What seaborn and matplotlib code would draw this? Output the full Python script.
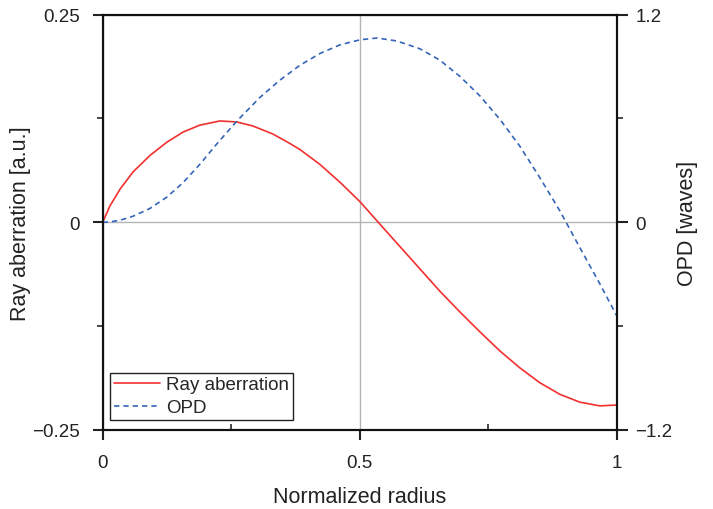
import matplotlib
matplotlib.use("Agg")
import matplotlib.pyplot as plt
import seaborn as sns
import pandas as pd
from matplotlib.ticker import MultipleLocator

# values
radius_ray = [0.0, 0.014, 0.034, 0.059, 0.092, 0.125, 0.156, 0.189, 0.228, 0.261,
              0.292, 0.331, 0.364, 0.384, 0.423, 0.462, 0.501, 0.539, 0.578, 0.617,
              0.656, 0.695, 0.734, 0.773, 0.811, 0.850, 0.889, 0.928, 0.967, 1.0]
ray_aberration = [0.0, 0.0196, 0.0401, 0.0606, 0.0805, 0.0965, 0.1085, 0.117, 0.122, 0.1208,
                  0.116, 0.1063, 0.0950, 0.0875, 0.0695, 0.048, 0.0245, -0.002, -0.029, -0.056,
                  -0.083, -0.108, -0.132, -0.155, -0.175, -0.193, -0.207, -0.2165, -0.221, -0.220]

radius_opd = [0.0, 0.014, 0.034, 0.059, 0.092, 0.125, 0.156, 0.189, 0.222, 0.261,
              0.306, 0.345, 0.384, 0.423, 0.462, 0.501, 0.534, 0.572, 0.617, 0.656,
              0.695, 0.734, 0.773, 0.811, 0.850, 0.889, 0.928, 0.967, 1.0]
opd = [0.0, 0.002, 0.012, 0.035, 0.080, 0.146, 0.228, 0.335, 0.453, 0.585,
       0.722, 0.822, 0.908, 0.976, 1.026, 1.055, 1.065, 1.048, 1.003, 0.937,
       0.843, 0.730, 0.594, 0.442, 0.260, 0.068, -0.145, -0.355, -0.540]

x_ticks = [0, 0.5, 1]
x_labels = ["0", "0.5", "1"]
left_ticks = [-0.25, 0, 0.25]
left_labels = ["\u22120.25", "0", "0.25"]
right_ticks = [-1.2, 0, 1.2]
right_labels = ["\u22121.2", "0", "1.2"]

ray_df = pd.DataFrame({"radius": radius_ray, "value": ray_aberration})
opd_df = pd.DataFrame({"radius": radius_opd, "value": opd})

sns.set_theme(style="white")
plt.rcParams["font.family"] = ["Liberation Sans", "DejaVu Sans"]

fig = plt.figure(figsize=(7.13, 5.10), dpi=100)
ax = fig.add_axes([0.144, 0.155, 0.721, 0.8143])
ax2 = ax.twinx()

red = "#f23030"
blue = "#3465b8"

sns.lineplot(data=ray_df, x="radius", y="value", ax=ax, color=red, linewidth=1.2,
             label="Ray aberration", legend=False)
sns.lineplot(data=opd_df, x="radius", y="value", ax=ax2, color=blue, linewidth=1.2,
             linestyle=(0, (3.2, 2.4)), label="OPD", legend=False)

ax.set_xlim(0, 1)
ax.set_ylim(-0.25, 0.25)
ax2.set_ylim(-1.2, 1.2)

ax.set_xticks(x_ticks)
ax.set_xticklabels(x_labels)
ax.set_yticks(left_ticks)
ax.set_yticklabels(left_labels)
ax2.set_yticks(right_ticks)
ax2.set_yticklabels(right_labels)
ax.xaxis.set_minor_locator(MultipleLocator(0.25))
ax.yaxis.set_minor_locator(MultipleLocator(0.125))
ax2.yaxis.set_minor_locator(MultipleLocator(0.6))

ax.grid(True, which="major", color="#b4b4b4", linewidth=1.0)
ax.set_axisbelow(True)

ax.tick_params(axis="x", which="major", direction="out", length=7, width=1.5,
               labelsize=13.5, pad=10, colors="#222222", bottom=True)
ax.tick_params(axis="x", which="minor", direction="in", length=4, width=1.2, bottom=True)
ax.tick_params(axis="y", which="major", direction="out", length=7, width=1.5,
               labelsize=13.5, pad=9.5, colors="#222222", left=True)
ax.tick_params(axis="y", which="minor", direction="out", length=4, width=1.2, left=True)
ax2.tick_params(axis="y", which="major", direction="out", length=8, width=1.5,
                labelsize=13.5, pad=5.5, colors="#222222", right=True)
ax2.tick_params(axis="y", which="minor", direction="out", length=4, width=1.2, right=True)

for a in (ax, ax2):
    for s in a.spines.values():
        s.set_linewidth(1.5)
        s.set_color("#111111")

ax.set_xlabel("Normalized radius", fontsize=15.5, labelpad=11, color="#222222")
ax.set_ylabel("Ray aberration [a.u.]", fontsize=15.5, labelpad=1, color="#222222")
ax2.set_ylabel("OPD [waves]", fontsize=15.5, labelpad=3, color="#222222")

h1, l1 = ax.get_legend_handles_labels()
h2, l2 = ax2.get_legend_handles_labels()
leg = ax2.legend(h1 + h2, l1 + l2, loc="lower left", bbox_to_anchor=(0.014, 0.024),
                 borderaxespad=0, fontsize=13.5, frameon=True, fancybox=False,
                 framealpha=1, edgecolor="#222222", handlelength=2.5,
                 handletextpad=0.3, labelspacing=0.3, borderpad=0.2)
leg.get_frame().set_linewidth(1.0)

fig.savefig("out.png", dpi=100)
